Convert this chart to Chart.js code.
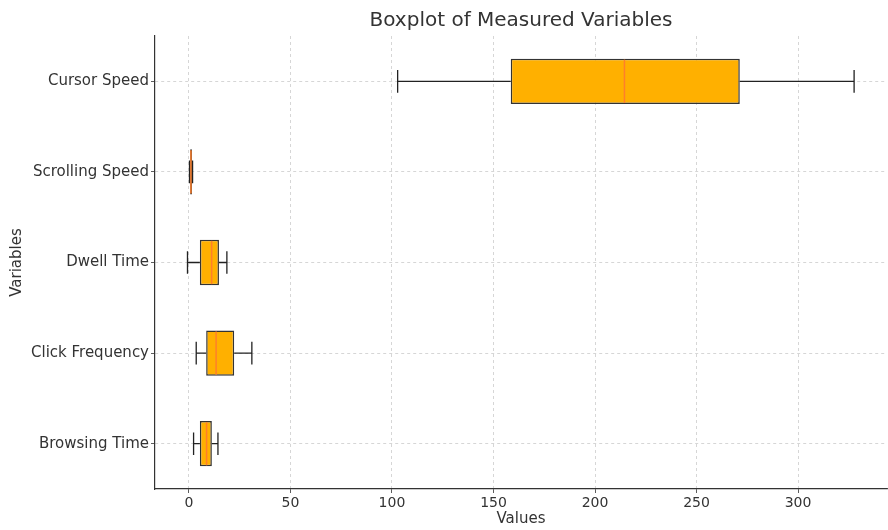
<!DOCTYPE html>
<html>
<head>
  <meta charset="UTF-8" />
  <title>Boxplot of Measured Variables</title>
  <script src="https://cdn.jsdelivr.net/npm/chart.js"></script>
  <style>
    html, body { margin: 0; padding: 0; background: #fff; }
    #wrap { width: 888px; height: 530px; }
  </style>
</head>
<body>
  <div id="wrap"><canvas id="boxChart" width="888" height="530"></canvas></div>

  <script>
    // values (top to bottom)
    const categories = ['Cursor Speed', 'Scrolling Speed', 'Dwell Time', 'Click Frequency', 'Browsing Time'];
    const whiskerLow = [102.8, 0.3, -0.7, 3.6, 2.3];
    const q1 = [158.5, 0.6, 5.4, 8.5, 5.4];
    const median = [214.5, 1.0, 11.2, 13.4, 8.7];
    const q3 = [271.3, 1.5, 14.8, 22.3, 11.3];
    const whiskerHigh = [327.6, 1.8, 18.7, 31.0, 14.3];
    const xTicks = [0, 50, 100, 150, 200, 250, 300];

    const FONT = "'DejaVu Sans', sans-serif";
    const TEXT = '#333333';

    // whiskers, caps and medians, placed through the chart's scales
    const boxExtras = {
      id: 'boxExtras',
      beforeDatasetsDraw(chart) {
        const ctx = chart.ctx;
        const x = chart.scales.x;
        const meta = chart.getDatasetMeta(0);
        ctx.save();
        ctx.strokeStyle = '#222';
        ctx.lineWidth = 1.3;
        meta.data.forEach((bar, i) => {
          const yc = bar.y;
          const cap = bar.height / 4;
          const lo = x.getPixelForValue(whiskerLow[i]);
          const hi = x.getPixelForValue(whiskerHigh[i]);
          const a = x.getPixelForValue(q1[i]);
          const b = x.getPixelForValue(q3[i]);
          ctx.beginPath();
          ctx.moveTo(lo, yc); ctx.lineTo(a, yc);
          ctx.moveTo(b, yc); ctx.lineTo(hi, yc);
          ctx.moveTo(lo, yc - cap); ctx.lineTo(lo, yc + cap);
          ctx.moveTo(hi, yc - cap); ctx.lineTo(hi, yc + cap);
          ctx.stroke();
        });
        ctx.restore();
      },
      afterDatasetsDraw(chart) {
        const ctx = chart.ctx;
        const x = chart.scales.x;
        const meta = chart.getDatasetMeta(0);
        ctx.save();
        ctx.strokeStyle = '#ff7f2a';
        ctx.lineWidth = 1.5;
        meta.data.forEach((bar, i) => {
          const m = x.getPixelForValue(median[i]);
          const h = bar.height / 2;
          ctx.beginPath();
          ctx.moveTo(m, bar.y - h + 1);
          ctx.lineTo(m, bar.y + h - 1);
          ctx.stroke();
        });
        // title
        const area = chart.chartArea;
        ctx.fillStyle = TEXT;
        ctx.font = '20px ' + FONT;
        ctx.textAlign = 'center';
        ctx.textBaseline = 'middle';
        ctx.fillText('Boxplot of Measured Variables', (area.left + area.right) / 2, 21);
        ctx.restore();
      }
    };

    new Chart(document.getElementById('boxChart').getContext('2d'), {
      type: 'bar',
      data: {
        labels: categories,
        datasets: [{
          label: 'IQR',
          data: categories.map((c, i) => [q1[i], q3[i]]),
          backgroundColor: '#ffb000',
          borderColor: '#333333',
          borderWidth: 1.5,
          borderSkipped: false,
          barPercentage: 0.5,
          categoryPercentage: 1.0
        }]
      },
      options: {
        indexAxis: 'y',
        responsive: false,
        animation: false,
        layout: { padding: { top: 36, right: 1, left: 0, bottom: 0 } },
        plugins: {
          legend: { display: false },
          tooltip: { enabled: false }
        },
        scales: {
          x: {
            type: 'linear',
            min: -16.7,
            max: 343.8,
            afterBuildTicks: scale => { scale.ticks = xTicks.map(v => ({ value: v })); },
            afterFit: scale => { scale.height = 41; },
            border: { display: true, color: '#333', width: 1.2, dash: [3, 3] },
            grid: {
              color: '#cccccc',
              tickColor: '#333',
              tickLength: 4,
              lineWidth: 0.8
            },
            ticks: { color: TEXT, font: { family: FONT, size: 14 }, padding: 2, maxRotation: 0 },
            title: {
              display: true,
              text: 'Values',
              color: TEXT,
              font: { family: FONT, size: 15 },
              padding: { top: 0, bottom: 2 }
            }
          },
          y: {
            type: 'category',
            afterFit: scale => { scale.width = 155; },
            border: { display: true, color: '#333', width: 1.2, dash: [3, 3] },
            grid: {
              offset: false,
              color: '#cccccc',
              tickColor: '#333',
              tickLength: 4,
              lineWidth: 0.8
            },
            ticks: { color: TEXT, font: { family: FONT, size: 15 }, padding: 2 },
            title: {
              display: true,
              text: 'Variables',
              color: TEXT,
              font: { family: FONT, size: 15 },
              padding: { top: 8, bottom: 0 }
            }
          }
        }
      },
      plugins: [boxExtras]
    });
  </script>
</body>
</html>
